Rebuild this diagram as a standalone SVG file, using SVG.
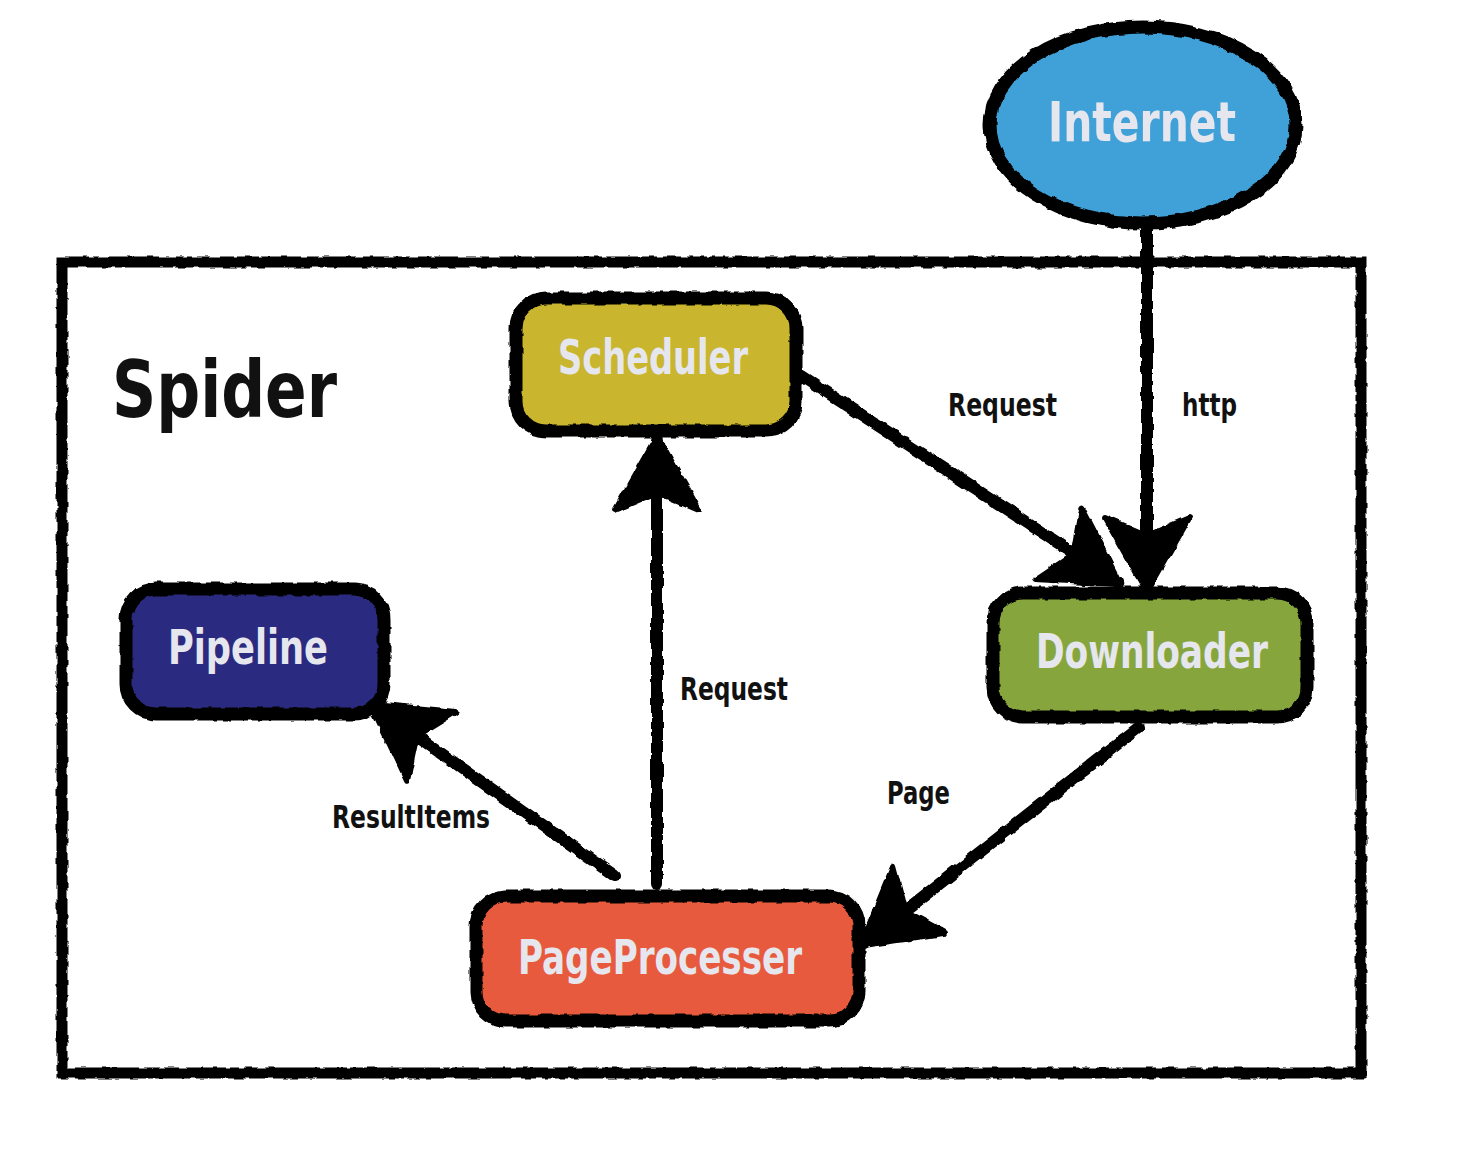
<svg xmlns="http://www.w3.org/2000/svg" width="1482" height="1150" viewBox="0 0 1482 1150">
<defs>
<filter id="rough" x="-10%" y="-10%" width="120%" height="120%">
<feTurbulence type="fractalNoise" baseFrequency="0.09" numOctaves="2" seed="3" result="n"/>
<feDisplacementMap in="SourceGraphic" in2="n" scale="5" xChannelSelector="R" yChannelSelector="G"/>
</filter>
<marker id="arr" markerUnits="userSpaceOnUse" markerWidth="90" markerHeight="100" refX="0" refY="0" viewBox="-80 -50 90 100" orient="auto" overflow="visible">
<path d="M4,0 L-70,-42 L-52,0 L-70,42 Z" fill="#000" stroke="#000" stroke-width="6" stroke-linejoin="round"/>
</marker>
<style>
.box{stroke:#000;stroke-width:13}
.conn{stroke:#000;stroke-width:12;fill:none;stroke-linecap:round}
.nt{font-family:"DejaVu Sans Condensed","Liberation Sans Narrow","Liberation Sans",sans-serif;font-weight:bold;fill:#e6e6ee;text-anchor:middle}
.lb{font-family:"DejaVu Sans Condensed","Liberation Sans Narrow","Liberation Sans",sans-serif;font-weight:bold;fill:#111}
</style>
</defs>
<rect width="1482" height="1150" fill="#fff"/>
<g id="spider" filter="url(#rough)">
<rect x="62" y="262" width="1299" height="811" fill="none" stroke="#000" stroke-width="11"/>
</g>
<text class="lb" x="112" y="417" font-size="78" textLength="225" lengthAdjust="spacingAndGlyphs">Spider</text>
<g id="connectors" filter="url(#rough)">
<line class="conn" x1="802" y1="376" x2="1118" y2="582" marker-end="url(#arr)"/>
<line class="conn" x1="1147" y1="228" x2="1147" y2="588" marker-end="url(#arr)"/>
<line class="conn" x1="657" y1="884" x2="657" y2="440" marker-end="url(#arr)"/>
<line class="conn" x1="615" y1="876" x2="374" y2="706" marker-end="url(#arr)"/>
<line class="conn" x1="1138" y1="728" x2="864" y2="943" marker-end="url(#arr)"/>
</g>
<g id="labels">
<text class="lb" x="948" y="416" font-size="32" textLength="109" lengthAdjust="spacingAndGlyphs">Request</text>
<text class="lb" x="1182" y="416" font-size="32" textLength="55" lengthAdjust="spacingAndGlyphs">http</text>
<text class="lb" x="680" y="700" font-size="32" textLength="108" lengthAdjust="spacingAndGlyphs">Request</text>
<text class="lb" x="887" y="804" font-size="32" textLength="63" lengthAdjust="spacingAndGlyphs">Page</text>
<text class="lb" x="332" y="828" font-size="32" textLength="158" lengthAdjust="spacingAndGlyphs">ResultItems</text>
</g>
<g id="internet">
<ellipse class="box" cx="1143" cy="125" rx="153" ry="98" fill="#41a0d8" filter="url(#rough)"/>
<text class="nt" x="1142" y="141" font-size="56" textLength="188" lengthAdjust="spacingAndGlyphs">Internet</text>
</g>
<g id="scheduler">
<rect class="box" x="516" y="298" width="280" height="133" rx="30" fill="#c9b52f" filter="url(#rough)"/>
<text class="nt" x="653" y="374" font-size="48" textLength="190" lengthAdjust="spacingAndGlyphs">Scheduler</text>
</g>
<g id="pipeline">
<rect class="box" x="126" y="589" width="258" height="125" rx="30" fill="#2a2c80" filter="url(#rough)"/>
<text class="nt" x="248" y="664" font-size="48" textLength="160" lengthAdjust="spacingAndGlyphs">Pipeline</text>
</g>
<g id="downloader">
<rect class="box" x="993" y="593" width="314" height="124" rx="30" fill="#86a63c" filter="url(#rough)"/>
<text class="nt" x="1152" y="668" font-size="48" textLength="232" lengthAdjust="spacingAndGlyphs">Downloader</text>
</g>
<g id="pageprocesser">
<rect class="box" x="476" y="896" width="383" height="125" rx="30" fill="#e85a3c" filter="url(#rough)"/>
<text class="nt" x="660" y="974" font-size="48" textLength="284" lengthAdjust="spacingAndGlyphs">PageProcesser</text>
</g>
</svg>
